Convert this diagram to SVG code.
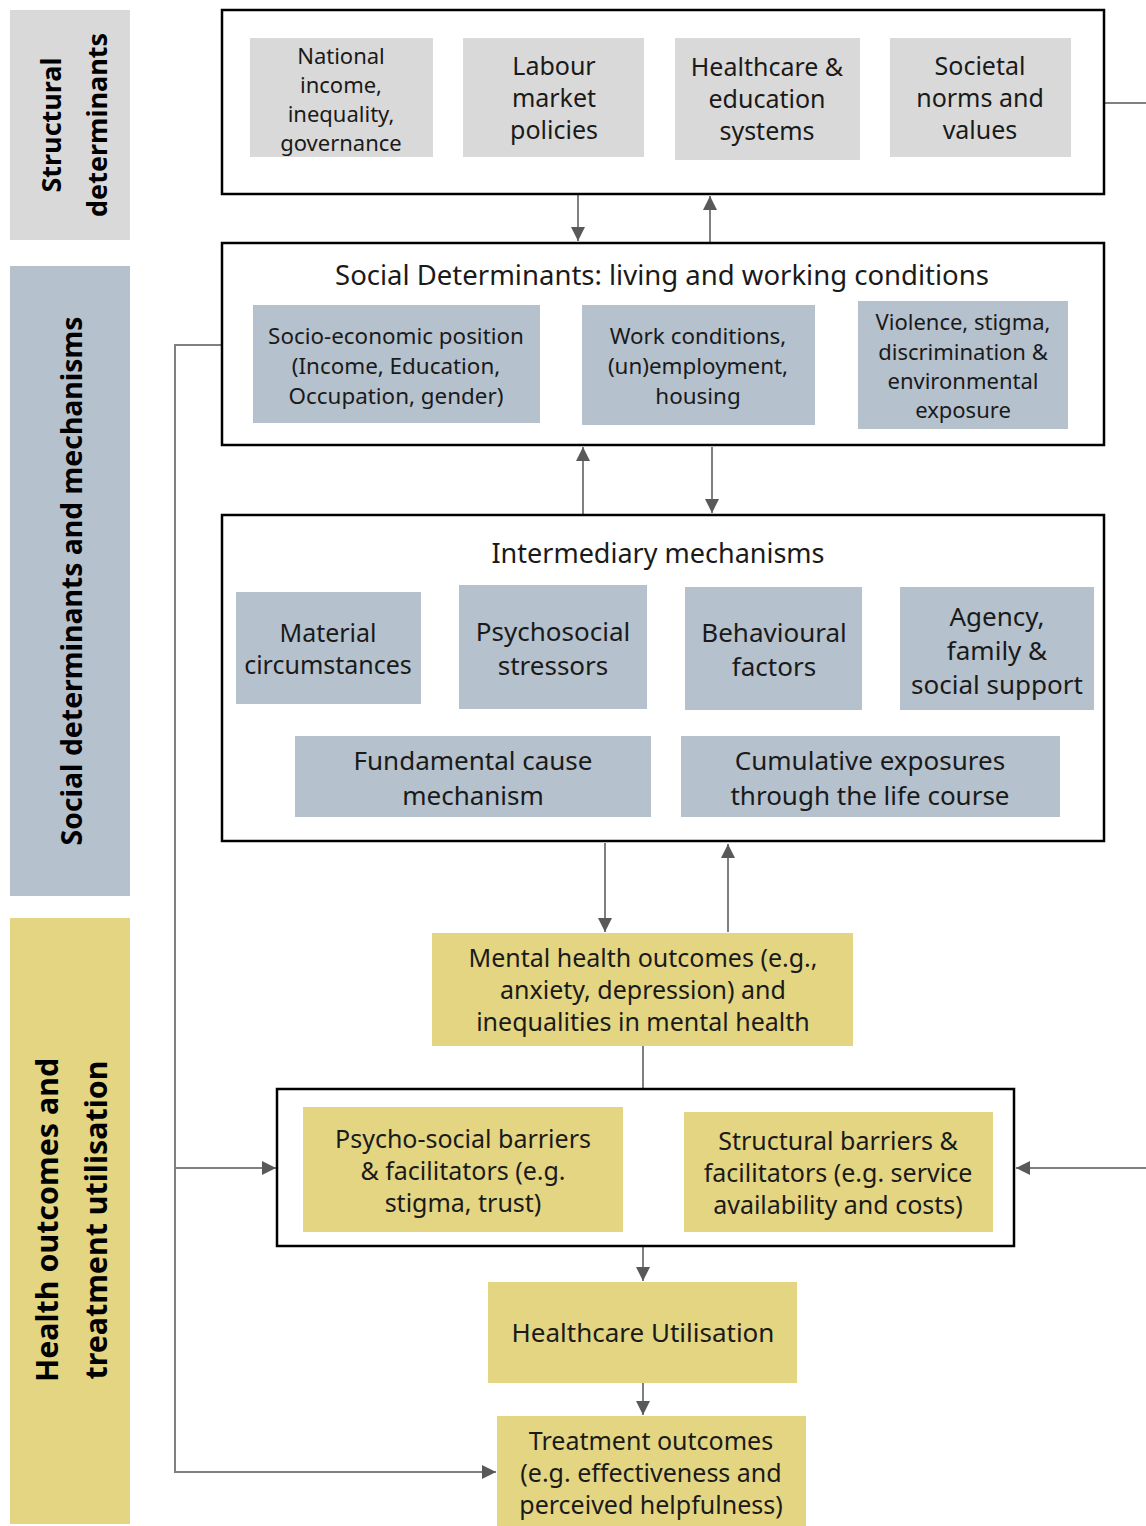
<svg xmlns="http://www.w3.org/2000/svg" width="1146" height="1526" viewBox="0 0 1146 1526">
<defs>
<marker id="ah" viewBox="0 0 10 10" refX="10" refY="5" markerWidth="14" markerHeight="14" markerUnits="userSpaceOnUse" orient="auto">
<path d="M0,0 L10,5 L0,10 Z" fill="#595959"/>
</marker>
<style>
text{font-family:"Noto Sans","Open Sans","DejaVu Sans",sans-serif;fill:#1a1a1a;text-anchor:middle}
.frame{fill:#fff;stroke:#000;stroke-width:2.5}
.g{fill:#d9d9d9}
.b{fill:#b5c1cd}
.y{fill:#e3d581}
.t22{font-size:22px}
.t23{font-size:22.4px}
.t25{font-size:25px}
.t26{font-size:26px}
.lab{font-size:27px;font-weight:bold;fill:#000}
.c{fill:none;stroke:#808080;stroke-width:2}
</style>
</defs>

<g id="side-labels">
<g id="lab-structural"><rect x="10" y="10" width="120" height="230" class="g"/>
<text class="lab" transform="translate(70,125) rotate(-90)"><tspan x="0" y="-9">Structural</tspan><tspan x="0" y="37">determinants</tspan></text></g>
<g id="lab-social"><rect x="10" y="266" width="120" height="630" class="b"/>
<text class="lab" style="font-size:28.4px" transform="translate(70,581) rotate(-90)" x="0" y="12">Social determinants and mechanisms</text></g>
<g id="lab-health"><rect x="10" y="918" width="120" height="606" class="y"/>
<text class="lab" style="font-size:30.4px" transform="translate(70,1220) rotate(-90)"><tspan x="0" y="-12">Health outcomes and</tspan><tspan x="0" y="37">treatment utilisation</tspan></text></g>
</g>

<g id="connectors">
<line x1="1104" y1="103" x2="1146" y2="103" class="c"/>
<line x1="1146" y1="1168" x2="1016" y2="1168" class="c" marker-end="url(#ah)"/>
<line x1="578" y1="195" x2="578" y2="241" class="c" marker-end="url(#ah)"/>
<line x1="710" y1="242" x2="710" y2="196" class="c" marker-end="url(#ah)"/>
<line x1="583" y1="514" x2="583" y2="447" class="c" marker-end="url(#ah)"/>
<line x1="712" y1="447" x2="712" y2="513" class="c" marker-end="url(#ah)"/>
<line x1="605" y1="843" x2="605" y2="932" class="c" marker-end="url(#ah)"/>
<line x1="728" y1="932" x2="728" y2="844" class="c" marker-end="url(#ah)"/>
<line x1="643" y1="1046" x2="643" y2="1089" class="c"/>
<line x1="643" y1="1247" x2="643" y2="1281" class="c" marker-end="url(#ah)"/>
<line x1="643" y1="1383" x2="643" y2="1415" class="c" marker-end="url(#ah)"/>
<polyline points="222,345 175,345 175,1472 496,1472" class="c" marker-end="url(#ah)"/>
<line x1="175" y1="1168" x2="276" y2="1168" class="c" marker-end="url(#ah)"/>
</g>

<g id="structural">
<rect x="222" y="10" width="882" height="184" class="frame"/>
<g id="n-income"><rect x="250" y="38" width="183" height="119" class="g"/>
<text class="t22"><tspan x="341" y="64">National</tspan><tspan x="341" y="93">income,</tspan><tspan x="341" y="122">inequality,</tspan><tspan x="341" y="151">governance</tspan></text></g>
<g id="n-labour"><rect x="463" y="38" width="181" height="119" class="g"/>
<text class="t25"><tspan x="554" y="75">Labour</tspan><tspan x="554" y="107">market</tspan><tspan x="554" y="139">policies</tspan></text></g>
<g id="n-healthcare"><rect x="675" y="38" width="185" height="122" class="g"/>
<text class="t25"><tspan x="767" y="76">Healthcare &amp;</tspan><tspan x="767" y="108">education</tspan><tspan x="767" y="140">systems</tspan></text></g>
<g id="n-norms"><rect x="890" y="38" width="181" height="119" class="g"/>
<text class="t25"><tspan x="980" y="75">Societal</tspan><tspan x="980" y="107">norms and</tspan><tspan x="980" y="139">values</tspan></text></g>
</g>

<g id="social">
<rect x="222" y="243" width="882" height="202" class="frame"/>
<text style="font-size:27.5px" x="662" y="285">Social Determinants: living and working conditions</text>
<g id="n-sep"><rect x="253" y="305" width="287" height="118" class="b"/>
<text class="t23"><tspan x="396" y="344">Socio-economic position</tspan><tspan x="396" y="374">(Income, Education,</tspan><tspan x="396" y="404">Occupation, gender)</tspan></text></g>
<g id="n-work"><rect x="582" y="305" width="233" height="120" class="b"/>
<text class="t23"><tspan x="698" y="344">Work conditions,</tspan><tspan x="698" y="374">(un)employment,</tspan><tspan x="698" y="404">housing</tspan></text></g>
<g id="n-violence"><rect x="858" y="301" width="210" height="128" class="b"/>
<text class="t22"><tspan x="963" y="330">Violence, stigma,</tspan><tspan x="963" y="360">discrimination &amp;</tspan><tspan x="963" y="389">environmental</tspan><tspan x="963" y="418">exposure</tspan></text></g>
</g>

<g id="intermediary">
<rect x="222" y="515" width="882" height="326" class="frame"/>
<text style="font-size:27px" x="658" y="563">Intermediary mechanisms</text>
<g id="n-material"><rect x="236" y="592" width="185" height="112" class="b"/>
<text class="t25"><tspan x="328" y="642">Material</tspan><tspan x="328" y="674">circumstances</tspan></text></g>
<g id="n-psychosocial"><rect x="459" y="585" width="188" height="124" class="b"/>
<text class="t26"><tspan x="553" y="641">Psychosocial</tspan><tspan x="553" y="675">stressors</tspan></text></g>
<g id="n-behavioural"><rect x="685" y="587" width="177" height="123" class="b"/>
<text class="t26"><tspan x="774" y="642">Behavioural</tspan><tspan x="774" y="676">factors</tspan></text></g>
<g id="n-agency"><rect x="900" y="587" width="194" height="123" class="b"/>
<text class="t26"><tspan x="997" y="626">Agency,</tspan><tspan x="997" y="660">family &amp;</tspan><tspan x="997" y="694">social support</tspan></text></g>
<g id="n-fundamental"><rect x="295" y="736" width="356" height="81" class="b"/>
<text class="t26"><tspan x="473" y="770">Fundamental cause</tspan><tspan x="473" y="805">mechanism</tspan></text></g>
<g id="n-cumulative"><rect x="681" y="736" width="379" height="81" class="b"/>
<text class="t26"><tspan x="870" y="770">Cumulative exposures</tspan><tspan x="870" y="805">through the life course</tspan></text></g>
</g>

<g id="n-mental"><rect x="432" y="933" width="421" height="113" class="y"/>
<text class="t25"><tspan x="643" y="967">Mental health outcomes (e.g.,</tspan><tspan x="643" y="999">anxiety, depression) and</tspan><tspan x="643" y="1031">inequalities in mental health</tspan></text></g>

<g id="barriers">
<rect x="277" y="1089" width="737" height="157" class="frame"/>
<g id="n-psychobarriers"><rect x="303" y="1107" width="320" height="125" class="y"/>
<text class="t25"><tspan x="463" y="1148">Psycho-social barriers</tspan><tspan x="463" y="1180">&amp; facilitators (e.g.</tspan><tspan x="463" y="1212">stigma, trust)</tspan></text></g>
<g id="n-structbarriers"><rect x="684" y="1112" width="309" height="120" class="y"/>
<text class="t25"><tspan x="838" y="1150">Structural barriers  &amp;</tspan><tspan x="838" y="1182">facilitators (e.g. service</tspan><tspan x="838" y="1214">availability and costs)</tspan></text></g>
</g>

<g id="n-utilisation"><rect x="488" y="1282" width="309" height="101" class="y"/>
<text class="t26" x="643" y="1342">Healthcare Utilisation</text></g>

<g id="n-treatment"><rect x="497" y="1416" width="309" height="110" class="y"/>
<text class="t25"><tspan x="651" y="1450">Treatment outcomes</tspan><tspan x="651" y="1482">(e.g. effectiveness and</tspan><tspan x="651" y="1514">perceived helpfulness)</tspan></text></g>
</svg>
